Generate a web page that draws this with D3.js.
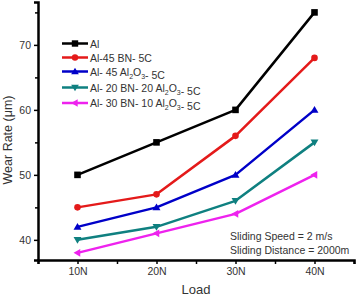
<!DOCTYPE html>
<html lang="en">
<head>
<meta charset="UTF-8">
<title>Wear Rate vs Load</title>
<script src="https://cdn.jsdelivr.net/npm/d3@7"></script>
<style>
  body { margin: 0; background: #fff; }
  svg { display: block; font-family: "Liberation Sans", Arial, sans-serif; }
</style>
</head>
<body>
<div id="container"></div>
<script>
// data
const loads = ["10N", "20N", "30N", "40N"];
const seriesNames = ["Al", "Al-45 BN- 5C", "Al- 45 Al2O3- 5C", "Al- 20 BN- 20 Al2O3- 5C", "Al- 30 BN- 10 Al2O3- 5C"];
const al = [50, 55, 60, 75];
const alBN = [45, 47, 56, 68];
const alAl2O3 = [42, 45, 50, 60];
const al20BN20 = [40, 42, 46, 55];
const al30BN10 = [38, 41, 44, 50];
const yTicks = [40, 50, 60, 70];
const yMinor = [45, 55, 65, 75];

const colors = ["#000000", "#e41a1a", "#0000c8", "#0f8080", "#ee22ee"];
const symbols = ["square", "circle", "triUp", "triDown", "triLeft"];
const allValues = [al, alBN, alAl2O3, al20BN20, al30BN10];

const width = 357, height = 296;
const leftEdge = 38, rightEdge = 354, topEdge = 2, bottomEdge = 260;

const svg = d3.select("#container").append("svg")
  .attr("width", width).attr("height", height);

const x = d3.scaleLinear().domain([0.5, 4.5]).range([leftEdge, rightEdge]);
const y = d3.scaleLinear().domain([36.9, 76.6]).range([bottomEdge, topEdge]);

// axes
const yAxis = svg.append("g").attr("transform", `translate(${leftEdge},0)`)
  .call(d3.axisLeft(y).tickValues(yTicks).tickSize(4).tickPadding(3).tickFormat(d3.format("d")));
const yAxisMinor = svg.append("g").attr("transform", `translate(${leftEdge},0)`)
  .call(d3.axisLeft(y).tickValues(yMinor).tickSize(3).tickFormat(""));
const xAxis = svg.append("g").attr("transform", `translate(0,${bottomEdge})`)
  .call(d3.axisBottom(x).tickValues([1, 2, 3, 4]).tickSize(4).tickPadding(4).tickFormat(d => loads[d - 1]));
const xAxisMinor = svg.append("g").attr("transform", `translate(0,${bottomEdge})`)
  .call(d3.axisBottom(x).tickValues([0.5, 1.5, 2.5, 3.5, 4.5]).tickSize(4).tickFormat(""));

[yAxis, yAxisMinor, xAxis, xAxisMinor].forEach(g => {
  g.select(".domain").attr("stroke", "#000").attr("stroke-width", 2.5);
  g.selectAll(".tick line").attr("stroke", "#000").attr("stroke-width", 1.5);
  g.selectAll(".tick text").attr("fill", "#333").attr("font-size", 10.5)
    .attr("font-family", "Liberation Sans, Arial, sans-serif");
});
yAxisMinor.select(".domain").remove();
xAxisMinor.select(".domain").remove();

// axis titles
svg.append("text")
  .attr("transform", `translate(12,140) rotate(-90)`)
  .attr("text-anchor", "middle").attr("font-size", 12.5).attr("fill", "#333")
  .text("Wear Rate (\u03bcm)");
svg.append("text")
  .attr("x", 196).attr("y", 294)
  .attr("text-anchor", "middle").attr("font-size", 13).attr("fill", "#333")
  .text("Load");

// marker shapes
function markerPath(type, s) {
  if (type === "square") return `M${-s},${-s}H${s}V${s}H${-s}Z`;
  if (type === "circle") return d3.symbol(d3.symbolCircle, Math.PI * s * s)();
  const h = s * 1.2;
  if (type === "triUp") return `M0,${-h}L${h},${h * 0.7}L${-h},${h * 0.7}Z`;
  if (type === "triDown") return `M0,${h}L${h},${-h * 0.7}L${-h},${-h * 0.7}Z`;
  return `M${-h},0L${h * 0.7},${-h}L${h * 0.7},${h}Z`;
}

const line = d3.line().x((d, i) => x(i + 1)).y(d => y(d));

allValues.forEach((vals, k) => {
  svg.append("path").datum(vals)
    .attr("d", line)
    .attr("fill", "none").attr("stroke", colors[k]).attr("stroke-width", 2.5)
    .attr("stroke-linejoin", "round");
  svg.selectAll(null).data(vals).join("path")
    .attr("transform", (d, i) => `translate(${x(i + 1)},${y(d)})`)
    .attr("d", markerPath(symbols[k], 3.3))
    .attr("fill", colors[k]);
});

// legend
const legendY = [43.5, 57.5, 71.5, 87.5, 103];
const legend = svg.append("g");
seriesNames.forEach((name, k) => {
  const g = legend.append("g").attr("transform", `translate(62,${legendY[k]})`);
  g.append("line").attr("x1", 0).attr("x2", 26).attr("y1", 0).attr("y2", 0)
    .attr("stroke", colors[k]).attr("stroke-width", 2.5);
  g.append("path").attr("transform", "translate(13,0)")
    .attr("d", markerPath(symbols[k], 3.2)).attr("fill", colors[k]);
  const t = g.append("text").attr("x", 28).attr("y", 4)
    .attr("font-size", 10.5).attr("fill", "#333");
  // render Al2O3 with subscripts
  const parts = name.split("Al2O3");
  parts.forEach((p, i) => {
    t.append("tspan").text(p);
    if (i < parts.length - 1) {
      t.append("tspan").text("Al");
      t.append("tspan").attr("dy", 3).attr("font-size", 7).text("2");
      t.append("tspan").attr("dy", -3).text("O");
      t.append("tspan").attr("dy", 3).attr("font-size", 7).text("3");
      t.append("tspan").attr("dy", -3).text("");
    }
  });
});

// annotation
const notes = ["Sliding Speed = 2 m/s", "Sliding Distance = 2000m"];
svg.selectAll(".note").data(notes).join("text")
  .attr("class", "note")
  .attr("x", 230).attr("y", (d, i) => 240 + i * 13.5)
  .attr("font-size", 10.5).attr("fill", "#333")
  .text(d => d);
</script>
</body>
</html>
